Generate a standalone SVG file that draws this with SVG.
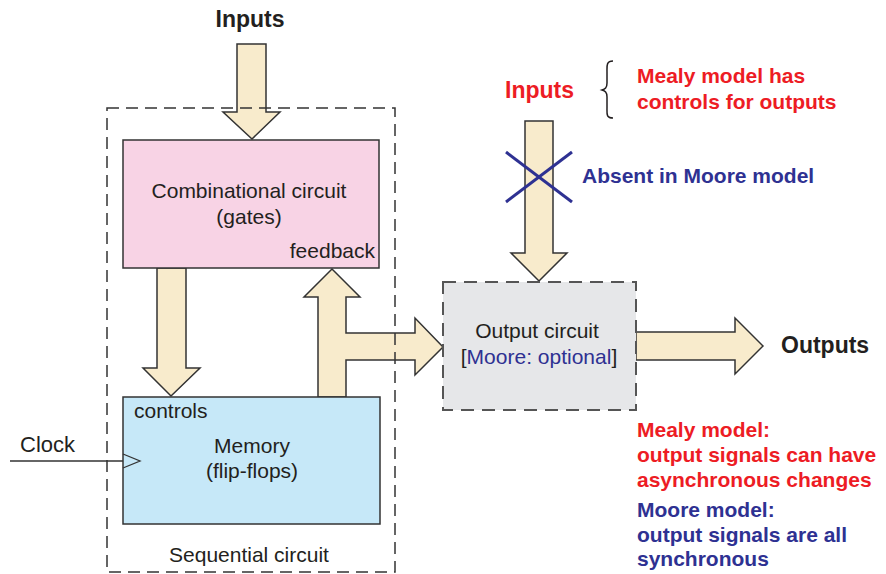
<svg xmlns="http://www.w3.org/2000/svg" width="886" height="574" viewBox="0 0 886 574">
<style>
text{font-family:"Liberation Sans",Arial,sans-serif;fill:#231f20}
.r{font-size:21px}
.b{font-size:21px;font-weight:bold}
.h{font-size:23px;font-weight:bold}
.red{fill:#ed1c24}
.blue{fill:#2e3192}
.arrow{fill:#f8ebcc;stroke:#333;stroke-width:1.5;stroke-linejoin:miter}
.dash{fill:none;stroke:#333;stroke-width:1.5;stroke-dasharray:12,7}
</style>
<rect width="886" height="574" fill="#fff"/>
<g id="connectors">
<polygon class="arrow" points="237,44 266,44 266,112 280,112 252,139 223,112 237,112"/>
<polygon class="arrow" points="157,268 186,268 186,368 200,368 171,396 143,368 157,368"/>
<polygon class="arrow" points="318,397 318,297 304,297 332,269 360,297 346,297 346,333 415,333 415,318 443,347 415,375 415,360 346,360 346,397"/>
<polygon class="arrow" points="525,121 553,121 553,253 567,253 539,281 511,253 525,253"/>
<polygon class="arrow" points="636,332 735,332 735,318 763,346 735,374 735,360 636,360"/>
<line x1="10" y1="461" x2="123" y2="461" stroke="#333" stroke-width="1.3"/>
</g>
<g id="sequential">
<rect class="dash" x="107" y="108" width="288" height="464"/>
<text class="r" x="249" y="562" text-anchor="middle">Sequential circuit</text>
</g>
<g id="combinational">
<rect x="123" y="140" width="256" height="128" fill="#f8d3e5" stroke="#333" stroke-width="1.5"/>
<text class="r" x="249" y="198" text-anchor="middle">Combinational circuit</text>
<text class="r" x="249" y="224" text-anchor="middle">(gates)</text>
<text class="r" x="375" y="258" text-anchor="end">feedback</text>
</g>
<g id="memory">
<rect x="123" y="397" width="257" height="127" fill="#c6e8f8" stroke="#333" stroke-width="1.5"/>
<polyline points="123,454 140,461 123,468" fill="none" stroke="#333" stroke-width="1.3"/>
<text class="r" x="134" y="418">controls</text>
<text class="r" x="252" y="453" text-anchor="middle">Memory</text>
<text class="r" x="252" y="478" text-anchor="middle">(flip-flops)</text>
</g>
<g id="clock">
<text x="20" y="452" font-size="22">Clock</text>
</g>
<g id="output-circuit">
<rect x="443" y="282" width="193" height="128" fill="#e6e7e9" stroke="#555" stroke-width="2" stroke-dasharray="13,8"/>
<text class="r" x="537" y="338" text-anchor="middle">Output circuit</text>
<text class="r" x="539" y="364" text-anchor="middle">[<tspan class="blue">Moore: optional</tspan>]</text>
</g>
<g id="inputs-top">
<text class="h" x="250" y="27" text-anchor="middle">Inputs</text>
</g>
<g id="inputs-right">
<text class="h red" x="505" y="98">Inputs</text>
<path d="M613,61 C606,61 607,66 607,72 L607,83 C607,88 605,89 602,90 C605,91 607,92 607,97 L607,108 C607,114 606,118 613,118" fill="none" stroke="#231f20" stroke-width="1.5"/>
<text class="b red" x="637" y="83">Mealy model has</text>
<text class="b red" x="637" y="109">controls for outputs</text>
<g stroke="#2e3192" stroke-width="3">
<line x1="506" y1="152" x2="572" y2="202"/>
<line x1="506" y1="202" x2="572" y2="152"/>
</g>
<text class="b blue" x="582" y="183">Absent in Moore model</text>
</g>
<g id="outputs">
<text class="h" x="781" y="353">Outputs</text>
</g>
<g id="notes">
<text class="b red" x="637" y="437">Mealy model:</text>
<text class="b red" x="637" y="462">output signals can have</text>
<text class="b red" x="637" y="487">asynchronous changes</text>
<text class="b blue" x="637" y="517">Moore model:</text>
<text class="b blue" x="637" y="542">output signals are all</text>
<text class="b blue" x="637" y="566">synchronous</text>
</g>
</svg>
